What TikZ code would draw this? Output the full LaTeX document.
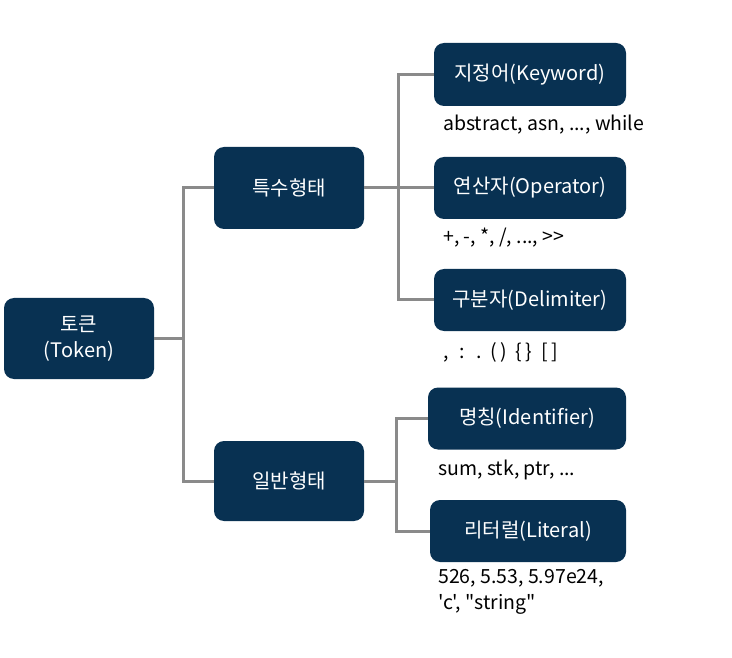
\documentclass[tikz,border=0pt]{standalone}
\usepackage{fontspec}
\setmainfont{Noto Sans CJK KR}[Ligatures=TeXOff]
\definecolor{navy}{HTML}{083152}
\definecolor{lin}{HTML}{8A8A8A}
\tikzset{
  box/.style={fill=navy, rounded corners=10pt, text=white, font=\fontsize{20}{26}\selectfont, align=center, inner sep=0pt},
  conn/.style={draw=lin, line width=3pt},
  note/.style={anchor=west, font=\fontsize{19.5}{26}\selectfont, align=left, inner sep=0pt, text=black}
}
\begin{document}
\begin{tikzpicture}[x=1pt,y=-1pt]
\useasboundingbox (0,0) rectangle (732,658);
\fill[white] (0,0) rectangle (732,658);
% boxes
\node[box, minimum width=150pt, minimum height=81pt] (tok) at (79,338.5) {토큰\\(Token)};
\node[box, minimum width=150pt, minimum height=82pt] (spec) at (289,188) {특수형태};
\node[box, minimum width=150pt, minimum height=80pt] (gen) at (289,481) {일반형태};
\node[box, minimum width=192pt, minimum height=63pt] (kw) at (530,74.5) {지정어(Keyword)};
\node[box, minimum width=192pt, minimum height=62pt] (op) at (530,188) {연산자(Operator)};
\node[box, minimum width=192pt, minimum height=62pt] (de) at (530,300) {구분자(Delimiter)};
\node[box, minimum width=198pt, minimum height=62pt] (id) at (527,418.5) {명칭(Identifier)};
\node[box, minimum width=196pt, minimum height=62pt] (lit) at (528,531) {리터럴(Literal)};
% junctions
\coordinate (j1) at (183,338.5);
\coordinate (j2) at (398,188);
\coordinate (j3) at (396,481);
% connectors
\draw[conn] (tok.east) -- (j1);
\draw[conn] (spec.west) -| (j1) |- (gen.west);
\draw[conn] (spec.east) -- (j2);
\draw[conn] (kw.west) -| (j2) |- (de.west);
\draw[conn] (j2) -- (op.west);
\draw[conn] (gen.east) -- (j3);
\draw[conn] (id.west) -| (j3) |- (lit.west);
% notes
\node[note] (kwn) at (443,125) {abstract, asn, ..., while};
\node[note] (opn) at (443,238) {+, -, *, /, ..., >>};
\node[note] (den) at (443,352) {,\hspace{11pt}:\hspace{11pt}.\hspace{9pt}(\,)\hspace{9pt}\{\,\}\hspace{9pt}[\,]};
\node[note] (idn) at (438,470) {sum, stk, ptr, ...};
\node[note] (litn) at (438,592) {526, 5.53, 5.97e24,\\'c', "string"};
\end{tikzpicture}
\end{document}
